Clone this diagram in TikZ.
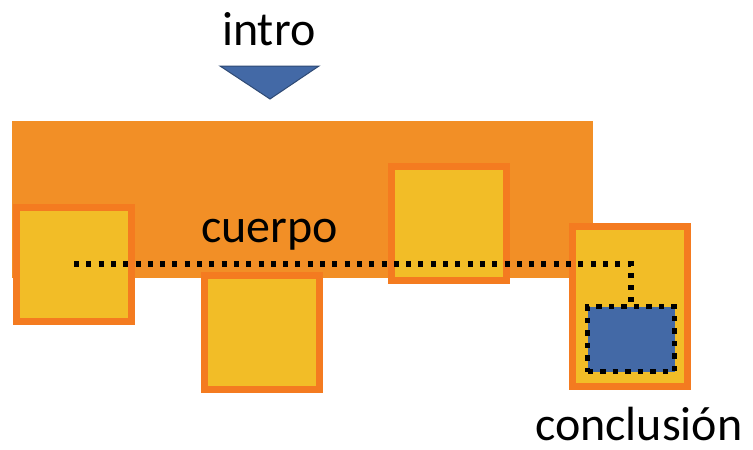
\documentclass[tikz,border=0pt]{standalone}
\usepackage{fontspec}
\setmainfont{Carlito}
\definecolor{bodyorange}{RGB}{242,143,38}
\definecolor{rimorange}{RGB}{244,123,32}
\definecolor{partyellow}{RGB}{242,189,39}
\definecolor{endblue}{RGB}{67,105,166}
\tikzset{
  {body/.style} ={fill=bodyorange,inner sep=0},
  {part/.style} ={rectangle,draw=rimorange,fill=partyellow,line width=7pt,
                  inner sep=0,minimum width=115pt,minimum height=114pt},
  {endpart/.style} ={part,minimum height=160pt},
  {endcore/.style} ={rectangle,fill=endblue,draw=black,line width=5.5pt,
                  dash pattern=on 5.5pt off 7pt,inner sep=0,
                  minimum width=87pt,minimum height=65pt},
  {thread/.style} ={draw,black,line width=6.5pt,dash pattern=on 5pt off 7.3pt},
  {label/.style} ={inner sep=0,anchor=base west,
                  font=\fontsize{48pt}{48pt}\selectfont},
  {pointer/.style} ={fill=endblue,draw=endblue!70!black,line width=1pt},
}
\begin{document}
\begin{tikzpicture}[x=1pt,y=-1pt]
\useasboundingbox (0,0) rectangle (753,450);
\node[label] (intro) at (222,45) {intro};
\draw[pointer] (220,66) -- (319,66) -- (270,99) -- cycle;
\fill[body] (12,121) rectangle (593,278);
\node[part] (p1) at (74,264.5) {};
\node[part] (p2) at (261.5,332.5) {};
\node[part] (p3) at (448.5,223.5) {};
\node[endpart] (p4) at (629.5,306.5) {};
\node[label] (cuerpo) at (201,242) {cuerpo};
\coordinate (start) at (74,264);
\node[endcore] (core) at (631,339) {};
\draw[thread] (start) -| (core.north);
\node[label] (conclusion) at (535,440) {conclusión};
\end{tikzpicture}
\end{document}
